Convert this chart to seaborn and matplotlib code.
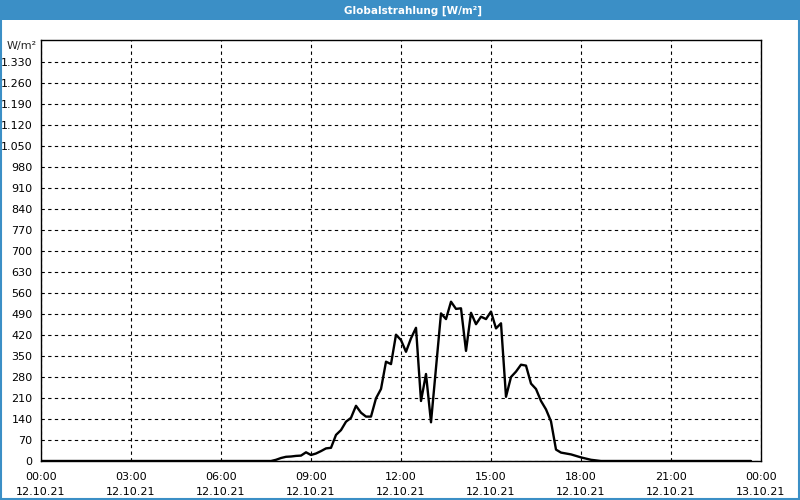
import numpy as np
import pandas as pd
import matplotlib
matplotlib.use("Agg")
import matplotlib.pyplot as plt
import matplotlib.dates as mdates
from matplotlib.ticker import FuncFormatter, MultipleLocator
from matplotlib.patches import Rectangle
import seaborn as sns

# ---- data (10-minute values, 12.10.21 00:00 .. 23:40) ----
night_morning = [0] * 47
day_values = [4, 10, 14, 15, 17, 18, 29, 20, 25, 33, 42, 44, 87, 103, 131, 144,
              184, 161, 148, 148, 209, 240, 331, 323, 421, 403, 364, 409, 444,
              200, 290, 129, 310, 492, 473, 531, 507, 509, 367, 494, 456, 481,
              473, 498, 442, 459, 214, 280, 298, 321, 318, 258, 240, 200, 172,
              132, 38, 28, 25, 22, 17, 12, 8, 4, 2]
evening_night = [0] * 31
values = night_morning + day_values + evening_night
start_time = "2021-10-12 00:00"
end_time = "2021-10-13 00:00"
title = "Globalstrahlung [W/m²]"
unit = "W/m²"
y_ticks = list(range(0, 1331, 70))

times = pd.date_range(start_time, periods=len(values), freq="10min")
df = pd.DataFrame({"time": times, "value": values})

sns.set_style("white")
plt.rcParams["font.family"] = ["DejaVu Sans"]

fig = plt.figure(figsize=(8, 5), dpi=100)
fig.patch.set_facecolor("white")

blue = "#3b8fc6"
# title bar
fig.patches.append(Rectangle((0, 1 - 20 / 500), 1, 20 / 500, transform=fig.transFigure,
                             facecolor=blue, edgecolor="none", zorder=0))
# border
fig.patches.append(Rectangle((0.001, 0.002), 0.998, 0.996, transform=fig.transFigure,
                             facecolor="none", edgecolor=blue, linewidth=1.5, zorder=1))
fig.text(413 / 800, 1 - 11 / 500, title, ha="center", va="center", color="white",
         fontsize=7.5, fontweight="bold")

ax = fig.add_axes([41 / 800, 39 / 500, 720 / 800, 421 / 500])
sns.lineplot(data=df, x="time", y="value", ax=ax, color="black", linewidth=1.7)

ax.set_xlim(pd.Timestamp(start_time), pd.Timestamp(end_time))
ax.set_ylim(0, 1403.3)
ax.set_yticks(y_ticks)
ax.yaxis.set_major_formatter(FuncFormatter(lambda v, p: f"{int(v):,}".replace(",", ".")))

ax.xaxis.set_major_locator(mdates.HourLocator(byhour=range(0, 24, 3)))
ax.xaxis.set_minor_locator(mdates.HourLocator())
ax.xaxis.set_major_formatter(mdates.DateFormatter("%H:%M\n%d.%m.%y"))

ax.set_xlabel("")
ax.set_ylabel("")
ax.grid(True, which="major", color="black", linestyle=(0, (3, 3)), linewidth=0.8)
for s in ax.spines.values():
    s.set_color("black")
    s.set_linewidth(1.0)
ax.tick_params(axis="both", which="major", direction="out", length=4, width=0.8,
               color="black", labelsize=8, labelcolor="black")
ax.tick_params(axis="x", which="minor", direction="out", length=4, width=0.8, color="black")
ax.tick_params(axis="x", which="major", pad=4)
ax.tick_params(axis="y", which="major", pad=2)
for lbl in ax.get_xticklabels():
    lbl.set_linespacing(1.6)

ax.text(-0.006, 1403.3 - 6 * 3.333, unit, transform=ax.get_yaxis_transform(),
        ha="right", va="center", fontsize=8)

fig.savefig("out.png", dpi=100)
